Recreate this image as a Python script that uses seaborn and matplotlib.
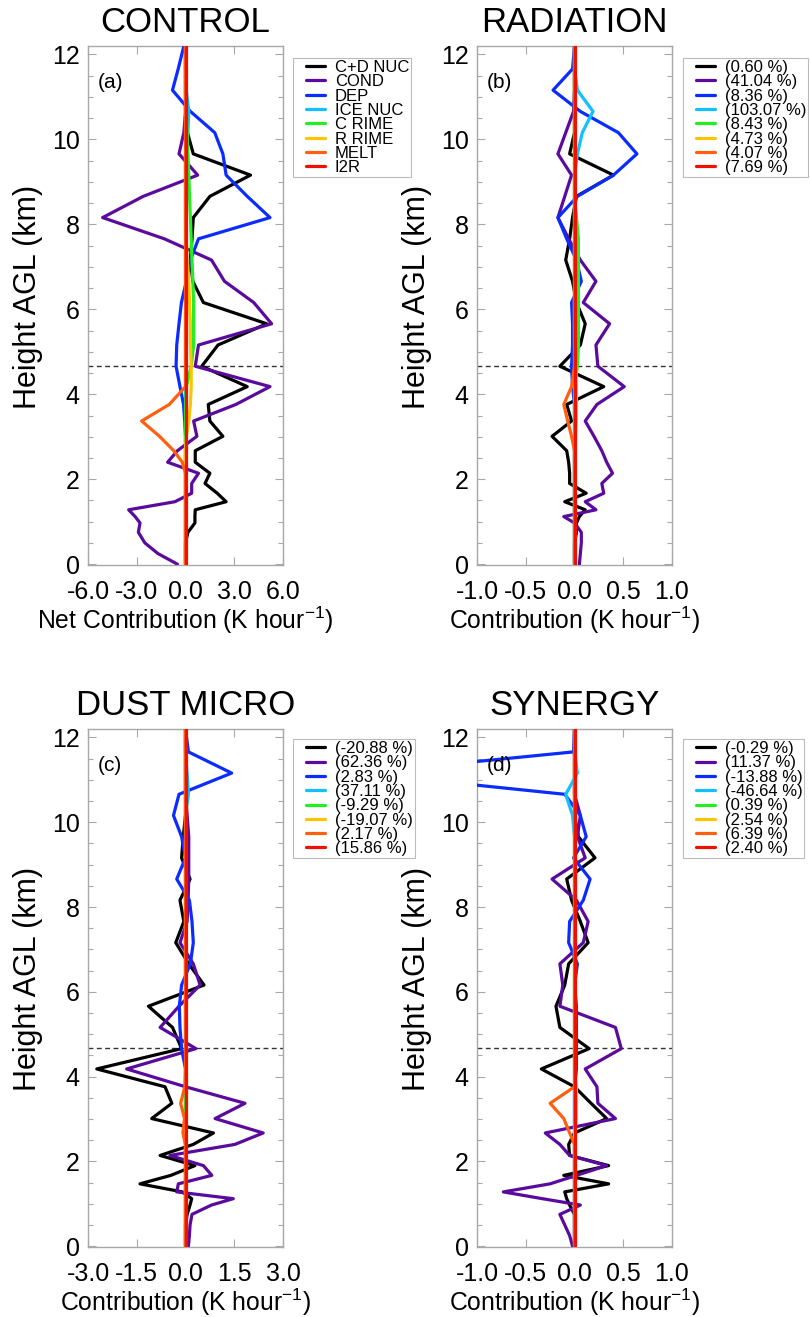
import matplotlib
matplotlib.use("Agg")
import matplotlib.pyplot as plt
import numpy as np
import pandas as pd
import seaborn as sns
from matplotlib.lines import Line2D
from matplotlib.legend_handler import HandlerLine2D
from matplotlib.ticker import MultipleLocator, FixedLocator, FormatStrFormatter

sns.set_theme(style="white")
plt.rcParams['font.family'] = ['Liberation Sans', 'DejaVu Sans']
plt.rcParams['mathtext.fontset'] = 'custom'
plt.rcParams['mathtext.rm'] = 'Liberation Sans'
plt.rcParams['mathtext.it'] = 'Liberation Sans'
plt.rcParams['axes.unicode_minus'] = False
for key in ("text.color", "axes.labelcolor", "xtick.labelcolor", "ytick.labelcolor"):
    plt.rcParams[key] = "black"

# Model levels (km above ground)
height_km = [0.0, 0.25, 0.5, 0.75, 0.97, 1.12, 1.28, 1.47, 1.67, 1.90, 2.14, 2.40,
             2.67, 3.01, 3.37, 3.76, 4.18, 4.66, 5.16, 5.66, 6.16, 6.66, 7.16, 7.66,
             8.16, 8.66, 9.16, 9.66, 10.16, 10.66, 11.16, 11.66, 12.2]

processes = ["C+D NUC", "COND", "DEP", "ICE NUC", "C RIME", "R RIME", "MELT", "I2R"]
process_colors = ["#000000", "#5a0a9c", "#0a2cff", "#10c0ff", "#22ee22", "#ffc400", "#ff6010", "#ee1100"]

# ---- CONTROL: net latent heating by process (K/hour)
ctl_cdnuc = [0, 0, 0, 0.15, 0.58, 0.58, 0.6, 2.5, 1.95, 1.2, 1.5, 0.6, 0.6, 2.3, 1.5, 1.4, 3.8,
             1.0, 2.0, 5.0, 1.1, 0.45, 0.3, 0.4, 0.48, 1.5, 4.0, 0.48, 0.12, 0, 0, 0, 0]
ctl_cond = [-0.5, -1.7, -2.5, -2.9, -2.8, -3.1, -3.5, -0.65, 0.38, 0.38, 0.8, -1.1, -0.5, 0.7, 0.5,
            3.1, 5.2, 0.6, 0.8, 5.3, 4.2, 2.4, 1.6, -1.3, -5.1, -2.6, 0.75, -0.4, -0.1, 0, 0, 0, 0]
ctl_dep = [0, 0, 0, 0, 0, 0, 0, 0, 0, 0, 0, 0, 0, 0, -0.05, -0.12, -0.34, -0.58, -0.54, -0.4,
           -0.25, 0.05, 0.3, 0.8, 5.2, 3.8, 2.5, 2.3, 1.8, 0.3, -0.8, -0.45, -0.1]
ctl_icenuc = [0, 0, 0, 0, 0, 0, 0, 0, 0, 0, 0, 0, 0, 0, 0, 0, 0, 0, 0, 0, 0, 0, 0, 0, 0, 0, 0,
              0, 0.15, 0.2, 0.05, 0, 0]
ctl_crime = [0, 0, 0, 0, 0, 0, 0, 0, 0, 0, 0, 0, 0, 0, 0, 0, 0.05, 0.35, 0.5, 0.5, 0.5, 0.45,
             0.4, 0.35, 0.3, 0.25, 0.2, 0.15, 0.1, 0.05, 0, 0, 0]
ctl_rrime = [0, 0, 0, 0, 0, 0, 0, 0, 0, 0, 0, 0, 0, 0.05, 0.2, 0.3, 0.35, 0.35, 0.3, 0.3, 0.25,
             0.2, 0.1, 0.05, 0, 0, 0, 0, 0, 0, 0, 0, 0]
ctl_melt = [0, 0, 0, 0, 0, 0, 0, 0, 0, 0, 0, -0.2, -0.72, -1.6, -2.7, -1.0, 0, 0, 0, 0, 0, 0, 0,
            0, 0, 0, 0, 0, 0, 0, 0, 0, 0]
ctl_i2r = [0.0] * 33

# ---- RADIATION: difference from CONTROL (K/hour)
rad_cdnuc = [0, 0, 0, 0.02, 0.02, 0.05, 0.11, -0.10, 0.12, -0.05, -0.05, -0.06, -0.08, -0.23,
             -0.03, -0.08, 0.30, -0.15, 0.06, 0.11, 0.02, -0.02, -0.09, -0.05, -0.02, 0.02, 0.40,
             -0.05, 0, 0, 0, 0, 0]
rad_cond = [0.05, 0.06, 0.07, 0.07, 0.0, -0.11, 0.22, 0.11, 0.30, 0.28, 0.39, 0.33, 0.28, 0.2,
            0.11, 0.23, 0.51, 0.24, 0.22, 0.36, 0.09, 0.22, 0.06, -0.06, -0.17, -0.1, -0.03,
            -0.17, -0.09, -0.01, 0, 0, 0]
rad_dep = [0, 0, 0, 0, 0, 0, 0, 0, 0, 0, 0, 0, 0, 0, 0, 0, -0.02, -0.03, -0.02, -0.02, -0.03,
           0.07, 0.02, -0.08, -0.17, 0.03, 0.40, 0.64, 0.45, 0.06, -0.22, -0.02, 0]
rad_icenuc = [0, 0, 0, 0, 0, 0, 0, 0, 0, 0, 0, 0, 0, 0, 0, 0, 0, 0, 0, 0, 0, 0, 0, 0, 0, 0, 0,
              0.03, 0.08, 0.19, 0.03, 0, 0]
rad_crime = [0, 0, 0, 0, 0, 0, 0, 0, 0, 0, 0, 0, 0, 0, 0, 0, 0, 0.03, 0.04, 0.04, 0.04, 0.04,
             0.04, 0.04, 0.02, 0, 0, 0, 0, 0, 0, 0, 0]
rad_rrime = [0, 0, 0, 0, 0, 0, 0, 0, 0, 0, 0, 0, 0, 0.01, 0.02, 0.02, 0.02, 0.01, 0, 0, 0, 0,
             0, 0, 0, 0, 0, 0, 0, 0, 0, 0, 0]
rad_melt = [0, 0, 0, 0, 0, 0, 0, 0, 0, 0, 0, 0, 0, -0.03, -0.07, -0.11, -0.03, 0, 0, 0, 0, 0,
            0, 0, 0, 0, 0, 0, 0, 0, 0, 0, 0]
rad_i2r = [0.0] * 33
rad_pct = ["(0.60 %)", "(41.04 %)", "(8.36 %)", "(103.07 %)", "(8.43 %)", "(4.73 %)",
           "(4.07 %)", "(7.69 %)"]

# ---- DUST MICRO: difference from CONTROL (K/hour)
dst_cdnuc = [0, 0, 0, 0.05, 0.14, 0.19, -0.1, -1.4, -0.45, 0.29, -0.78, 0.24, 0.86, -1.04, -0.42,
             -0.63, -2.73, -0.12, -0.4, -1.14, 0.57, 0.1, -0.3, -0.05, -0.17, 0.14, -0.12, -0.07,
             0, 0, 0, 0, 0]
dst_cond = [0.09, 0.12, 0.14, 0.2, 0.8, 1.47, -0.27, -0.22, 0.81, 0.55, -0.48, 1.52, 2.39, 0.91,
            1.83, 0.0, -1.81, 0.32, -0.78, -0.2, 0.45, 0.24, -0.17, 0.05, 0.08, 0.1, 0.1, 0.1,
            0.05, 0, 0, 0, 0]
dst_dep = [0, 0, 0, 0, 0, 0, 0, 0, 0, 0, 0, 0, 0, 0, 0, 0, 0, -0.12, -0.17, -0.19, -0.12, 0.15,
           0.24, 0.2, 0.12, -0.27, 0.0, -0.12, -0.37, -0.2, 1.42, 0.09, 0]
dst_icenuc = [0, 0, 0, 0, 0, 0, 0, 0, 0, 0, 0, 0, 0, 0, 0, 0, 0, 0, 0, 0, 0, 0, 0, 0, 0, 0, 0,
              0, 0, 0.09, 0.05, 0, 0]
dst_crime = [0, 0, 0, 0, 0, 0, 0, 0, 0, 0, 0, 0, 0, 0, 0, 0, 0.02, 0.03, 0.02, 0, 0, 0, 0, 0, 0,
             0, 0, 0, 0, 0, 0, 0, 0]
dst_rrime = [0, 0, 0, 0, 0, 0, 0, 0, 0, 0, 0, 0, 0, 0.03, 0.03, 0.03, 0.03, 0, 0, 0, 0, 0, 0,
             0, 0, 0, 0, 0, 0, 0, 0, 0, 0]
dst_melt = [0, 0, 0, 0, 0, 0, 0, 0, 0, 0, 0, 0, -0.08, -0.03, -0.15, -0.02, 0, 0, 0, 0, 0, 0, 0,
            0, 0, 0, 0, 0, 0, 0, 0, 0, 0]
dst_i2r = [0.0] * 33
dst_pct = ["(-20.88 %)", "(62.36 %)", "(2.83 %)", "(37.11 %)", "(-9.29 %)", "(-19.07 %)",
           "(2.17 %)", "(15.86 %)"]

# ---- SYNERGY (K/hour)
syn_cdnuc = [0, 0, 0, 0, -0.05, -0.08, -0.1, 0.35, -0.11, 0.35, -0.05, -0.06, 0.0, 0.33, 0.17,
             0.0, -0.34, 0.15, -0.15, -0.19, -0.1, -0.06, 0.14, 0.06, -0.03, -0.08, 0.21, 0.04,
             0, 0, 0, 0, 0]
syn_cond = [-0.02, -0.05, -0.1, -0.15, 0.06, -0.33, -0.73, -0.25, 0.02, 0.33, -0.05, -0.15, -0.3,
            0.42, 0.24, 0.23, 0.11, 0.48, 0.42, -0.15, -0.12, -0.15, 0.09, 0.14, 0.02, -0.23,
            0.11, 0.03, 0.06, 0, 0, 0, 0]
syn_dep = [0, 0, 0, 0, 0, 0, 0, 0, 0, 0, 0, 0, 0, 0, 0, 0, 0.02, 0.02, 0.02, 0.02, 0.0, 0.03,
           -0.06, -0.05, 0.09, 0.16, -0.01, 0.12, 0.06, -0.10, -2.2, -0.01, 0]
syn_icenuc = [0, 0, 0, 0, 0, 0, 0, 0, 0, 0, 0, 0, 0, 0, 0, 0, 0, 0, 0, 0, 0, 0, 0, 0, 0, 0, 0,
              0, -0.02, -0.09, 0.03, 0, 0]
syn_crime = [0.0] * 33
syn_rrime = [0, 0, 0, 0, 0, 0, 0, 0, 0, 0, 0, 0, 0, 0.02, 0.02, 0.02, 0, 0, 0, 0, 0, 0, 0, 0,
             0, 0, 0, 0, 0, 0, 0, 0, 0]
syn_melt = [0, 0, 0, 0, 0, 0, 0, 0, 0, 0, 0, 0, -0.05, -0.11, -0.25, 0.0, 0, 0, 0, 0, 0, 0, 0,
            0, 0, 0, 0, 0, 0, 0, 0, 0, 0]
syn_i2r = [0.0] * 33
syn_pct = ["(-0.29 %)", "(11.37 %)", "(-13.88 %)", "(-46.64 %)", "(0.39 %)", "(2.54 %)",
           "(6.39 %)", "(2.40 %)"]

freezing_level_km = 4.67

unit = "(K hour$^{-1}$)"
panels = [
    dict(title="CONTROL", tag="(a)", xlim=6.0, xticks=[-6, -3, 0, 3, 6],
         xlabel="Net Contribution " + unit, labels=processes,
         series=[ctl_cdnuc, ctl_cond, ctl_dep, ctl_icenuc, ctl_crime, ctl_rrime, ctl_melt, ctl_i2r]),
    dict(title="RADIATION", tag="(b)", xlim=1.0, xticks=[-1, -0.5, 0, 0.5, 1],
         xlabel="Contribution " + unit, labels=rad_pct,
         series=[rad_cdnuc, rad_cond, rad_dep, rad_icenuc, rad_crime, rad_rrime, rad_melt, rad_i2r]),
    dict(title="DUST MICRO", tag="(c)", xlim=3.0, xticks=[-3, -1.5, 0, 1.5, 3],
         xlabel="Contribution " + unit, labels=dst_pct,
         series=[dst_cdnuc, dst_cond, dst_dep, dst_icenuc, dst_crime, dst_rrime, dst_melt, dst_i2r]),
    dict(title="SYNERGY", tag="(d)", xlim=1.0, xticks=[-1, -0.5, 0, 0.5, 1],
         xlabel="Contribution " + unit, labels=syn_pct,
         series=[syn_cdnuc, syn_cond, syn_dep, syn_icenuc, syn_crime, syn_rrime, syn_melt, syn_i2r]),
]

W, H = 810, 1317
fig = plt.figure(figsize=(W / 100, H / 100), dpi=100)


def rect(x0, y0, x1, y1):
    return [x0 / W, 1 - y1 / H, (x1 - x0) / W, (y1 - y0) / H]


boxes = [rect(88, 46, 283, 565), rect(477, 46, 672, 565),
         rect(88, 729, 283, 1247), rect(477, 729, 672, 1247)]
legend_anchor = [(293, 58), (683, 58), (293, 739), (683, 739)]
frame_gray = "#a8a8a8"
LEG_FS = 12.0

for p, box, (lx, ly) in zip(panels, boxes, legend_anchor):
    ax = fig.add_axes(box)
    ax.axhline(freezing_level_km, color="#333333", lw=1.0, ls=(0, (3.5, 2.5)), zorder=1)
    for vals, name, col in zip(p["series"], p["labels"], process_colors):
        df = pd.DataFrame({"value": vals, "height": height_km})
        sns.lineplot(data=df, x="value", y="height", orient="y", estimator=None, sort=True,
                     color=col, lw=2.3, label=name, ax=ax, zorder=3)
    ax.set_xlim(-p["xlim"], p["xlim"])
    ax.set_ylim(-0.02, 12.2)
    ax.xaxis.set_major_locator(FixedLocator(p["xticks"]))
    ax.xaxis.set_major_formatter(FormatStrFormatter("%.1f"))
    ax.yaxis.set_major_locator(MultipleLocator(2))
    ax.yaxis.set_minor_locator(MultipleLocator(0.5))
    ax.tick_params(axis="both", which="both", direction="in", top=True, right=True,
                   bottom=True, left=True, color=frame_gray, width=0.8, labelcolor="black")
    ax.tick_params(axis="both", which="major", length=6, labelsize=18)
    ax.tick_params(axis="x", which="major", pad=11)
    ax.tick_params(axis="y", which="major", pad=6)
    ax.tick_params(axis="y", which="minor", length=3.5)
    for s in ax.spines.values():
        s.set_color(frame_gray)
        s.set_linewidth(1.0)
    ax.set_xlabel(p["xlabel"], fontsize=17.8, labelpad=0)
    ax.set_ylabel("Height AGL (km)", fontsize=22, labelpad=6)
    ax.yaxis.label.set_y(0.517)
    ax.set_title(p["title"], fontsize=25, pad=10, color="black")
    ax.text(0.05, 0.929, p["tag"], transform=ax.transAxes, fontsize=15, va="center", ha="left")
    leg = ax.legend(loc="upper left", bbox_to_anchor=(lx / W, 1 - ly / H),
                    bbox_transform=fig.transFigure, borderaxespad=0, fontsize=LEG_FS,
                    frameon=True, fancybox=False, edgecolor="#bbbbbb", framealpha=1,
                    handlelength=1.8, handletextpad=0.58, labelspacing=-0.04, borderpad=0.12,
                    handler_map={Line2D: HandlerLine2D(xpad=0.66)})
    leg.get_frame().set_linewidth(0.8)
    for line in leg.get_lines():
        line.set_linewidth(2.3)

fig.savefig("out.png", dpi=100)
